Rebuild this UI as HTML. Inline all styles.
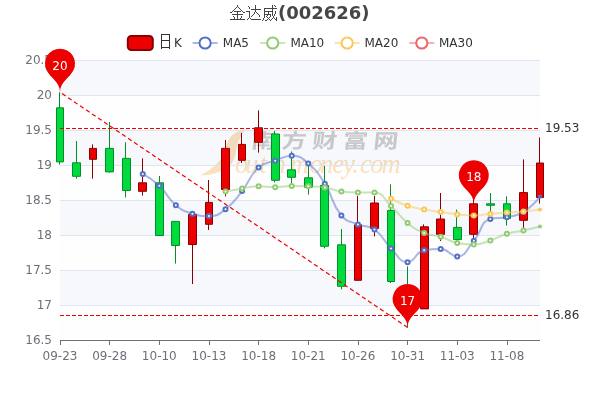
<!DOCTYPE html>
<html lang="zh-CN">
<head>
<meta charset="utf-8">
<title>金达威(002626)</title>
<style>
html,body{margin:0;padding:0;background:#fff;}
body{width:600px;height:400px;overflow:hidden;position:relative;font-family:'DejaVu Sans','Liberation Sans','Unifont','WenQuanYi Zen Hei','Noto Sans CJK SC',sans-serif;}
svg text{white-space:pre;}
</style>
</head>
<body>
<svg width="600" height="400" viewBox="0 0 600 400" style="position:absolute;left:0;top:0;display:block" font-family="'DejaVu Sans','Liberation Sans','Unifont','WenQuanYi Zen Hei','Noto Sans CJK SC',sans-serif" font-size="12">
<defs><clipPath id="gc"><rect x="60" y="59" width="480" height="282"/></clipPath></defs>
<rect width="600" height="400" fill="#fff"/>
<g id="wm">
<path d="M246 129C238 130.5 231 134 227.5 142C224 150 223 157 219 161.5C214 167 207 172 200.5 175.5C210 175.5 221 172.5 228 167C234 162 235.5 155 236.5 149C237.5 142 241 135 246 129Z" fill="#fbdbb0"/>
<text transform="translate(250.4 147.8) skewX(-6) scale(1.25 1)" font-family="'Noto Sans CJK SC','WenQuanYi Zen Hei',sans-serif" font-weight="700" font-size="20" letter-spacing="4.5" fill="#c3c3c3">南方财富网</text>
<text transform="translate(0 173)" font-family="'Liberation Serif','DejaVu Serif',serif" font-style="italic" font-size="26.5" fill="#fbd9ac"><tspan x="220.5" y="-2" font-size="20" fill="#fbdbb0">S</tspan><tspan x="235 245.3 259.5 272.4 289.8 309.5 320.1 332.2 343.1 352.2 359.9 370.2 381.4" y="0">outhmoney.com</tspan></text>
</g>
<rect x="60" y="60" width="480" height="35" fill="rgba(210,219,238,0.2)"/>
<rect x="60" y="95" width="480" height="35" fill="rgba(250,250,250,0.2)"/>
<rect x="60" y="130" width="480" height="35" fill="rgba(210,219,238,0.2)"/>
<rect x="60" y="165" width="480" height="35" fill="rgba(250,250,250,0.2)"/>
<rect x="60" y="200" width="480" height="35" fill="rgba(210,219,238,0.2)"/>
<rect x="60" y="235" width="480" height="35" fill="rgba(250,250,250,0.2)"/>
<rect x="60" y="270" width="480" height="35" fill="rgba(210,219,238,0.2)"/>
<rect x="60" y="305" width="480" height="35" fill="rgba(250,250,250,0.2)"/>
<line x1="60" x2="540" y1="60.5" y2="60.5" stroke="#E0E6F1" stroke-width="1"/>
<line x1="60" x2="540" y1="95.5" y2="95.5" stroke="#E0E6F1" stroke-width="1"/>
<line x1="60" x2="540" y1="130.5" y2="130.5" stroke="#E0E6F1" stroke-width="1"/>
<line x1="60" x2="540" y1="165.5" y2="165.5" stroke="#E0E6F1" stroke-width="1"/>
<line x1="60" x2="540" y1="200.5" y2="200.5" stroke="#E0E6F1" stroke-width="1"/>
<line x1="60" x2="540" y1="235.5" y2="235.5" stroke="#E0E6F1" stroke-width="1"/>
<line x1="60" x2="540" y1="270.5" y2="270.5" stroke="#E0E6F1" stroke-width="1"/>
<line x1="60" x2="540" y1="305.5" y2="305.5" stroke="#E0E6F1" stroke-width="1"/>
<line x1="60" x2="540" y1="340.5" y2="340.5" stroke="#6E7079" stroke-width="1"/>
<line x1="60.5" x2="60.5" y1="340" y2="345" stroke="#6E7079" stroke-width="1"/>
<text x="60.00" y="360" text-anchor="middle" fill="#6E7079">09-23</text>
<line x1="109.5" x2="109.5" y1="340" y2="345" stroke="#6E7079" stroke-width="1"/>
<text x="109.66" y="360" text-anchor="middle" fill="#6E7079">09-28</text>
<line x1="159.5" x2="159.5" y1="340" y2="345" stroke="#6E7079" stroke-width="1"/>
<text x="159.31" y="360" text-anchor="middle" fill="#6E7079">10-10</text>
<line x1="209.5" x2="209.5" y1="340" y2="345" stroke="#6E7079" stroke-width="1"/>
<text x="208.97" y="360" text-anchor="middle" fill="#6E7079">10-13</text>
<line x1="258.5" x2="258.5" y1="340" y2="345" stroke="#6E7079" stroke-width="1"/>
<text x="258.62" y="360" text-anchor="middle" fill="#6E7079">10-18</text>
<line x1="308.5" x2="308.5" y1="340" y2="345" stroke="#6E7079" stroke-width="1"/>
<text x="308.28" y="360" text-anchor="middle" fill="#6E7079">10-21</text>
<line x1="358.5" x2="358.5" y1="340" y2="345" stroke="#6E7079" stroke-width="1"/>
<text x="357.93" y="360" text-anchor="middle" fill="#6E7079">10-26</text>
<line x1="407.5" x2="407.5" y1="340" y2="345" stroke="#6E7079" stroke-width="1"/>
<text x="407.59" y="360" text-anchor="middle" fill="#6E7079">10-31</text>
<line x1="457.5" x2="457.5" y1="340" y2="345" stroke="#6E7079" stroke-width="1"/>
<text x="457.24" y="360" text-anchor="middle" fill="#6E7079">11-03</text>
<line x1="507.5" x2="507.5" y1="340" y2="345" stroke="#6E7079" stroke-width="1"/>
<text x="506.90" y="360" text-anchor="middle" fill="#6E7079">11-08</text>
<text x="52" y="64.4" text-anchor="end" fill="#6E7079">20.5</text>
<text x="52" y="99.4" text-anchor="end" fill="#6E7079">20</text>
<text x="52" y="134.4" text-anchor="end" fill="#6E7079">19.5</text>
<text x="52" y="169.4" text-anchor="end" fill="#6E7079">19</text>
<text x="52" y="204.4" text-anchor="end" fill="#6E7079">18.5</text>
<text x="52" y="239.4" text-anchor="end" fill="#6E7079">18</text>
<text x="52" y="274.4" text-anchor="end" fill="#6E7079">17.5</text>
<text x="52" y="309.4" text-anchor="end" fill="#6E7079">17</text>
<text x="52" y="344.4" text-anchor="end" fill="#6E7079">16.5</text>
<g id="k">
<path d="M56.5 107.80L63.5 107.80L63.5 161.90L56.5 161.90ZM59.5 92.20L59.5 107.80M59.5 164.60L59.5 161.90" fill="#00da3c" stroke="#008F28" stroke-width="1"/>
<path d="M72.5 162.80L80.5 162.80L80.5 176.30L72.5 176.30ZM76.5 141.00L76.5 162.80M76.5 178.60L76.5 176.30" fill="#00da3c" stroke="#008F28" stroke-width="1"/>
<path d="M89.5 148.40L96.5 148.40L96.5 159.30L89.5 159.30ZM92.5 144.40L92.5 148.40M92.5 178.60L92.5 159.30" fill="#ec0000" stroke="#8A0000" stroke-width="1"/>
<path d="M105.5 148.40L113.5 148.40L113.5 171.90L105.5 171.90ZM109.5 122.00L109.5 148.40M109.5 172.60L109.5 171.90" fill="#00da3c" stroke="#008F28" stroke-width="1"/>
<path d="M122.5 158.40L130.5 158.40L130.5 190.50L122.5 190.50ZM125.5 142.40L125.5 158.40M125.5 197.40L125.5 190.50" fill="#00da3c" stroke="#008F28" stroke-width="1"/>
<path d="M138.5 182.80L146.5 182.80L146.5 191.30L138.5 191.30ZM142.5 158.40L142.5 182.80M142.5 195.60L142.5 191.30" fill="#ec0000" stroke="#8A0000" stroke-width="1"/>
<path d="M155.5 182.80L163.5 182.80L163.5 235.50L155.5 235.50ZM159.5 176.00L159.5 182.80M159.5 235.60L159.5 235.50" fill="#00da3c" stroke="#008F28" stroke-width="1"/>
<path d="M171.5 221.40L179.5 221.40L179.5 245.50L171.5 245.50ZM175.5 221.00L175.5 221.40M175.5 263.60L175.5 245.50" fill="#00da3c" stroke="#008F28" stroke-width="1"/>
<path d="M188.5 214.40L196.5 214.40L196.5 244.50L188.5 244.50ZM192.5 213.00L192.5 214.40M192.5 284.00L192.5 244.50" fill="#ec0000" stroke="#8A0000" stroke-width="1"/>
<path d="M205.5 202.40L212.5 202.40L212.5 224.30L205.5 224.30ZM208.5 180.00L208.5 202.40M208.5 230.00L208.5 224.30" fill="#ec0000" stroke="#8A0000" stroke-width="1"/>
<path d="M221.5 148.40L229.5 148.40L229.5 189.50L221.5 189.50ZM225.5 140.00L225.5 148.40M225.5 196.40L225.5 189.50" fill="#ec0000" stroke="#8A0000" stroke-width="1"/>
<path d="M238.5 144.40L245.5 144.40L245.5 160.30L238.5 160.30ZM241.5 133.00L241.5 144.40M241.5 163.00L241.5 160.30" fill="#ec0000" stroke="#8A0000" stroke-width="1"/>
<path d="M254.5 127.80L262.5 127.80L262.5 142.30L254.5 142.30ZM258.5 110.40L258.5 127.80M258.5 152.60L258.5 142.30" fill="#ec0000" stroke="#8A0000" stroke-width="1"/>
<path d="M271.5 134.00L279.5 134.00L279.5 180.30L271.5 180.30ZM274.5 131.00L274.5 134.00M274.5 182.40L274.5 180.30" fill="#00da3c" stroke="#008F28" stroke-width="1"/>
<path d="M287.5 169.80L295.5 169.80L295.5 177.30L287.5 177.30ZM291.5 151.50L291.5 169.80M291.5 183.00L291.5 177.30" fill="#00da3c" stroke="#008F28" stroke-width="1"/>
<path d="M304.5 177.80L312.5 177.80L312.5 187.30L304.5 187.30ZM308.5 163.00L308.5 177.80M308.5 194.60L308.5 187.30" fill="#00da3c" stroke="#008F28" stroke-width="1"/>
<path d="M320.5 185.40L328.5 185.40L328.5 246.30L320.5 246.30ZM324.5 166.00L324.5 185.40M324.5 248.40L324.5 246.30" fill="#00da3c" stroke="#008F28" stroke-width="1"/>
<path d="M337.5 244.80L345.5 244.80L345.5 286.30L337.5 286.30ZM341.5 229.00L341.5 244.80M341.5 289.40L341.5 286.30" fill="#00da3c" stroke="#008F28" stroke-width="1"/>
<path d="M354.5 224.80L361.5 224.80L361.5 280.30L354.5 280.30ZM357.5 196.00L357.5 224.80M357.5 280.40L357.5 280.30" fill="#ec0000" stroke="#8A0000" stroke-width="1"/>
<path d="M370.5 203.00L378.5 203.00L378.5 228.50L370.5 228.50ZM374.5 196.00L374.5 203.00M374.5 236.40L374.5 228.50" fill="#ec0000" stroke="#8A0000" stroke-width="1"/>
<path d="M387.5 210.40L394.5 210.40L394.5 281.50L387.5 281.50ZM390.5 184.40L390.5 210.40M390.5 283.00L390.5 281.50" fill="#00da3c" stroke="#008F28" stroke-width="1"/>
<path d="M403.5 285.40L411.5 285.40L411.5 315.20L403.5 315.20ZM407.5 266.40L407.5 285.40M407.5 327.50L407.5 315.20" fill="#00da3c" stroke="#008F28" stroke-width="1"/>
<path d="M420.5 226.80L428.5 226.80L428.5 308.90L420.5 308.90ZM423.5 224.40L423.5 226.80M423.5 309.00L423.5 308.90" fill="#ec0000" stroke="#8A0000" stroke-width="1"/>
<path d="M436.5 219.00L444.5 219.00L444.5 234.30L436.5 234.30ZM440.5 193.00L440.5 219.00M440.5 241.00L440.5 234.30" fill="#ec0000" stroke="#8A0000" stroke-width="1"/>
<path d="M453.5 227.40L461.5 227.40L461.5 239.50L453.5 239.50ZM456.5 209.60L456.5 227.40M456.5 241.00L456.5 239.50" fill="#00da3c" stroke="#008F28" stroke-width="1"/>
<path d="M469.5 203.80L477.5 203.80L477.5 234.30L469.5 234.30ZM473.5 199.00L473.5 203.80M473.5 238.00L473.5 234.30" fill="#ec0000" stroke="#8A0000" stroke-width="1"/>
<path d="M486.5 203.80L494.5 203.80L494.5 205.30L486.5 205.30ZM490.5 193.00L490.5 203.80M490.5 212.00L490.5 205.30" fill="#00da3c" stroke="#008F28" stroke-width="1"/>
<path d="M503.5 203.80L510.5 203.80L510.5 218.50L503.5 218.50ZM506.5 196.40L506.5 203.80M506.5 225.60L506.5 218.50" fill="#00da3c" stroke="#008F28" stroke-width="1"/>
<path d="M519.5 192.60L527.5 192.60L527.5 220.30L519.5 220.30ZM523.5 159.40L523.5 192.60M523.5 228.00L523.5 220.30" fill="#ec0000" stroke="#8A0000" stroke-width="1"/>
<path d="M536.5 163.00L543.5 163.00L543.5 197.50L536.5 197.50ZM539.5 137.40L539.5 163.00M539.5 203.60L539.5 197.50" fill="#ec0000" stroke="#8A0000" stroke-width="1"/>
</g>
<g clip-path="url(#gc)">
<path d="M142.76 173.98C142.76 173.98 151.97 178.89 159.31 185.82C168.52 194.52 166.29 197.17 175.86 205.24C182.84 211.13 183.70 211.09 192.41 213.74C200.25 216.12 200.98 216.12 208.97 216.12C217.53 216.12 218.54 214.53 225.52 209.24C235.09 201.98 234.44 200.65 242.07 191.02C250.99 179.77 248.42 176.84 258.62 167.48C264.97 161.66 266.75 163.67 275.17 160.66C283.31 157.75 283.68 155.64 291.72 155.64C300.23 155.64 301.48 157.64 308.28 163.42C318.03 171.72 317.82 172.78 324.83 183.80C334.37 198.82 330.53 202.19 341.38 215.50C347.08 222.49 349.32 220.75 357.93 224.40C365.87 227.77 367.72 224.64 374.48 229.54C384.27 236.63 382.13 239.61 391.03 248.38C398.68 255.92 399.08 262.16 407.59 262.16C415.63 262.16 415.01 251.69 424.14 250.26C431.56 249.10 432.77 249.10 440.69 249.10C449.32 249.10 449.90 256.40 457.24 256.40C466.45 256.40 466.31 249.34 473.79 240.86C482.86 230.58 480.03 221.63 490.34 218.88C496.58 217.22 498.80 218.88 506.90 217.22C515.35 215.49 516.24 216.42 523.45 211.94C532.80 206.13 540.00 196.64 540.00 196.64" fill="none" stroke="#5470c6" stroke-width="2" stroke-opacity="0.5" stroke-linejoin="bevel"/>
<circle cx="142.76" cy="173.98" r="2" fill="#fff" stroke="#5470c6" stroke-width="2"/>
<circle cx="159.31" cy="185.82" r="2" fill="#fff" stroke="#5470c6" stroke-width="2"/>
<circle cx="175.86" cy="205.24" r="2" fill="#fff" stroke="#5470c6" stroke-width="2"/>
<circle cx="192.41" cy="213.74" r="2" fill="#fff" stroke="#5470c6" stroke-width="2"/>
<circle cx="208.97" cy="216.12" r="2" fill="#fff" stroke="#5470c6" stroke-width="2"/>
<circle cx="225.52" cy="209.24" r="2" fill="#fff" stroke="#5470c6" stroke-width="2"/>
<circle cx="242.07" cy="191.02" r="2" fill="#fff" stroke="#5470c6" stroke-width="2"/>
<circle cx="258.62" cy="167.48" r="2" fill="#fff" stroke="#5470c6" stroke-width="2"/>
<circle cx="275.17" cy="160.66" r="2" fill="#fff" stroke="#5470c6" stroke-width="2"/>
<circle cx="291.72" cy="155.64" r="2" fill="#fff" stroke="#5470c6" stroke-width="2"/>
<circle cx="308.28" cy="163.42" r="2" fill="#fff" stroke="#5470c6" stroke-width="2"/>
<circle cx="324.83" cy="183.80" r="2" fill="#fff" stroke="#5470c6" stroke-width="2"/>
<circle cx="341.38" cy="215.50" r="2" fill="#fff" stroke="#5470c6" stroke-width="2"/>
<circle cx="357.93" cy="224.40" r="2" fill="#fff" stroke="#5470c6" stroke-width="2"/>
<circle cx="374.48" cy="229.54" r="2" fill="#fff" stroke="#5470c6" stroke-width="2"/>
<circle cx="391.03" cy="248.38" r="2" fill="#fff" stroke="#5470c6" stroke-width="2"/>
<circle cx="407.59" cy="262.16" r="2" fill="#fff" stroke="#5470c6" stroke-width="2"/>
<circle cx="424.14" cy="250.26" r="2" fill="#fff" stroke="#5470c6" stroke-width="2"/>
<circle cx="440.69" cy="249.10" r="2" fill="#fff" stroke="#5470c6" stroke-width="2"/>
<circle cx="457.24" cy="256.40" r="2" fill="#fff" stroke="#5470c6" stroke-width="2"/>
<circle cx="473.79" cy="240.86" r="2" fill="#fff" stroke="#5470c6" stroke-width="2"/>
<circle cx="490.34" cy="218.88" r="2" fill="#fff" stroke="#5470c6" stroke-width="2"/>
<circle cx="506.90" cy="217.22" r="2" fill="#fff" stroke="#5470c6" stroke-width="2"/>
<circle cx="523.45" cy="211.94" r="2" fill="#fff" stroke="#5470c6" stroke-width="2"/>
</g>
<circle cx="540.00" cy="196.64" r="2.1" fill="#5470c6" fill-opacity="0.92"/>
<g clip-path="url(#gc)">
<path d="M225.52 191.61C225.52 191.61 233.75 189.74 242.07 188.42C250.30 187.11 250.32 186.36 258.62 186.36C266.87 186.36 266.90 187.20 275.17 187.20C283.46 187.20 283.44 185.88 291.72 185.88C299.99 185.88 300.01 185.95 308.28 186.33C316.56 186.71 316.66 186.33 324.83 187.41C333.22 188.52 332.99 190.42 341.38 191.49C349.54 192.53 349.65 192.47 357.93 192.53C366.20 192.59 367.23 192.53 374.48 192.59C383.79 192.67 383.23 198.73 391.03 205.90C399.78 213.93 398.45 215.53 407.59 222.98C415.00 229.02 415.34 229.22 424.14 232.88C431.89 236.11 432.58 234.28 440.69 236.75C449.13 239.32 448.71 241.22 457.24 242.97C465.26 244.62 465.62 244.62 473.79 244.62C482.17 244.62 482.27 243.18 490.34 240.52C498.82 237.74 498.38 236.31 506.90 233.74C514.93 231.31 515.21 232.32 523.45 230.52C531.76 228.71 540.00 226.52 540.00 226.52" fill="none" stroke="#91cc75" stroke-width="2" stroke-opacity="0.5" stroke-linejoin="bevel"/>
<circle cx="225.52" cy="191.61" r="2" fill="#fff" stroke="#91cc75" stroke-width="2"/>
<circle cx="242.07" cy="188.42" r="2" fill="#fff" stroke="#91cc75" stroke-width="2"/>
<circle cx="258.62" cy="186.36" r="2" fill="#fff" stroke="#91cc75" stroke-width="2"/>
<circle cx="275.17" cy="187.20" r="2" fill="#fff" stroke="#91cc75" stroke-width="2"/>
<circle cx="291.72" cy="185.88" r="2" fill="#fff" stroke="#91cc75" stroke-width="2"/>
<circle cx="308.28" cy="186.33" r="2" fill="#fff" stroke="#91cc75" stroke-width="2"/>
<circle cx="324.83" cy="187.41" r="2" fill="#fff" stroke="#91cc75" stroke-width="2"/>
<circle cx="341.38" cy="191.49" r="2" fill="#fff" stroke="#91cc75" stroke-width="2"/>
<circle cx="357.93" cy="192.53" r="2" fill="#fff" stroke="#91cc75" stroke-width="2"/>
<circle cx="374.48" cy="192.59" r="2" fill="#fff" stroke="#91cc75" stroke-width="2"/>
<circle cx="391.03" cy="205.90" r="2" fill="#fff" stroke="#91cc75" stroke-width="2"/>
<circle cx="407.59" cy="222.98" r="2" fill="#fff" stroke="#91cc75" stroke-width="2"/>
<circle cx="424.14" cy="232.88" r="2" fill="#fff" stroke="#91cc75" stroke-width="2"/>
<circle cx="440.69" cy="236.75" r="2" fill="#fff" stroke="#91cc75" stroke-width="2"/>
<circle cx="457.24" cy="242.97" r="2" fill="#fff" stroke="#91cc75" stroke-width="2"/>
<circle cx="473.79" cy="244.62" r="2" fill="#fff" stroke="#91cc75" stroke-width="2"/>
<circle cx="490.34" cy="240.52" r="2" fill="#fff" stroke="#91cc75" stroke-width="2"/>
<circle cx="506.90" cy="233.74" r="2" fill="#fff" stroke="#91cc75" stroke-width="2"/>
<circle cx="523.45" cy="230.52" r="2" fill="#fff" stroke="#91cc75" stroke-width="2"/>
</g>
<circle cx="540.00" cy="226.52" r="2.1" fill="#91cc75" fill-opacity="0.92"/>
<g clip-path="url(#gc)">
<path d="M391.03 198.75C391.03 198.75 399.09 202.91 407.59 205.70C415.64 208.34 415.79 208.04 424.14 209.62C432.34 211.18 432.42 210.77 440.69 211.97C448.97 213.18 448.93 213.55 457.24 214.43C465.48 215.30 465.53 215.47 473.79 215.47C482.08 215.47 482.07 214.68 490.34 213.97C498.62 213.25 498.62 213.23 506.90 212.62C515.17 212.01 515.19 212.29 523.45 211.53C531.74 210.76 540.00 209.56 540.00 209.56" fill="none" stroke="#fac858" stroke-width="2" stroke-opacity="0.5" stroke-linejoin="bevel"/>
<circle cx="391.03" cy="198.75" r="2" fill="#fff" stroke="#fac858" stroke-width="2"/>
<circle cx="407.59" cy="205.70" r="2" fill="#fff" stroke="#fac858" stroke-width="2"/>
<circle cx="424.14" cy="209.62" r="2" fill="#fff" stroke="#fac858" stroke-width="2"/>
<circle cx="440.69" cy="211.97" r="2" fill="#fff" stroke="#fac858" stroke-width="2"/>
<circle cx="457.24" cy="214.43" r="2" fill="#fff" stroke="#fac858" stroke-width="2"/>
<circle cx="473.79" cy="215.47" r="2" fill="#fff" stroke="#fac858" stroke-width="2"/>
<circle cx="490.34" cy="213.97" r="2" fill="#fff" stroke="#fac858" stroke-width="2"/>
<circle cx="506.90" cy="212.62" r="2" fill="#fff" stroke="#fac858" stroke-width="2"/>
<circle cx="523.45" cy="211.53" r="2" fill="#fff" stroke="#fac858" stroke-width="2"/>
</g>
<circle cx="540.00" cy="209.56" r="2.1" fill="#fac858" fill-opacity="0.92"/>
<line x1="407.59" y1="327.50" x2="60.00" y2="92.20" stroke="#ec0000" stroke-width="1.2" stroke-dasharray="4.3 2.945"/>
<line x1="60.00" y1="315.50" x2="540.00" y2="315.50" stroke="#ec0000" stroke-width="1" stroke-dasharray="4 2"/>
<text x="545" y="319" fill="#333">16.86</text>
<line x1="60.00" y1="128.50" x2="540.00" y2="128.50" stroke="#ec0000" stroke-width="1" stroke-dasharray="4 2"/>
<text x="545" y="132" fill="#333">19.53</text>
<path d="M46.45 70.06A15.00 15.00 0 1 1 73.55 70.06C69.70 78.19 60.00 81.70 60.00 92.20C60.00 81.70 50.30 78.19 46.45 70.06Z" fill="#ec0000"/>
<text x="60.00" y="70" text-anchor="middle" fill="#fff">20</text>
<path d="M394.03 305.36A15.00 15.00 0 1 1 421.14 305.36C417.28 313.49 407.59 317.00 407.59 327.50C407.59 317.00 397.89 313.49 394.03 305.36Z" fill="#ec0000"/>
<text x="407.59" y="305" text-anchor="middle" fill="#fff">17</text>
<path d="M460.24 181.66A15.00 15.00 0 1 1 487.35 181.66C483.49 189.79 473.79 193.30 473.79 203.80C473.79 193.30 464.10 189.79 460.24 181.66Z" fill="#ec0000"/>
<text x="473.79" y="181" text-anchor="middle" fill="#fff">18</text>
<rect x="127.8" y="36" width="25" height="14" rx="3.5" fill="#ec0000" stroke="#8A0000" stroke-width="2"/>
<text x="158" y="47" fill="#333"><tspan font-family="'Unifont','WenQuanYi Zen Hei','Noto Sans CJK SC',sans-serif" font-size="16">日</tspan><tspan x="174" y="47.2">K</tspan></text>
<line x1="192.6" x2="217.6" y1="43" y2="43" stroke="#5470c6" stroke-width="2" stroke-opacity="0.5"/>
<circle cx="205.1" cy="43" r="5.6" fill="#fff" stroke="#5470c6" stroke-width="2"/>
<text x="222.8" y="47.2" fill="#333">MA5</text>
<line x1="260.2" x2="285.2" y1="43" y2="43" stroke="#91cc75" stroke-width="2" stroke-opacity="0.5"/>
<circle cx="272.7" cy="43" r="5.6" fill="#fff" stroke="#91cc75" stroke-width="2"/>
<text x="290.4" y="47.2" fill="#333">MA10</text>
<line x1="334.7" x2="359.7" y1="43" y2="43" stroke="#fac858" stroke-width="2" stroke-opacity="0.5"/>
<circle cx="347.2" cy="43" r="5.6" fill="#fff" stroke="#fac858" stroke-width="2"/>
<text x="364.5" y="47.2" fill="#333">MA20</text>
<line x1="409.3" x2="434.3" y1="43" y2="43" stroke="#ee6666" stroke-width="2" stroke-opacity="0.5"/>
<circle cx="421.8" cy="43" r="5.6" fill="#fff" stroke="#ee6666" stroke-width="2"/>
<text x="439.0" y="47.2" fill="#333">MA30</text>
<text x="230" y="19" fill="#464646" font-weight="bold" font-size="18"><tspan font-family="'Unifont','WenQuanYi Zen Hei','Noto Sans CJK SC',sans-serif" font-size="16" font-weight="normal">金达威</tspan><tspan x="278">(002626)</tspan></text>
</svg>
</body>
</html>
